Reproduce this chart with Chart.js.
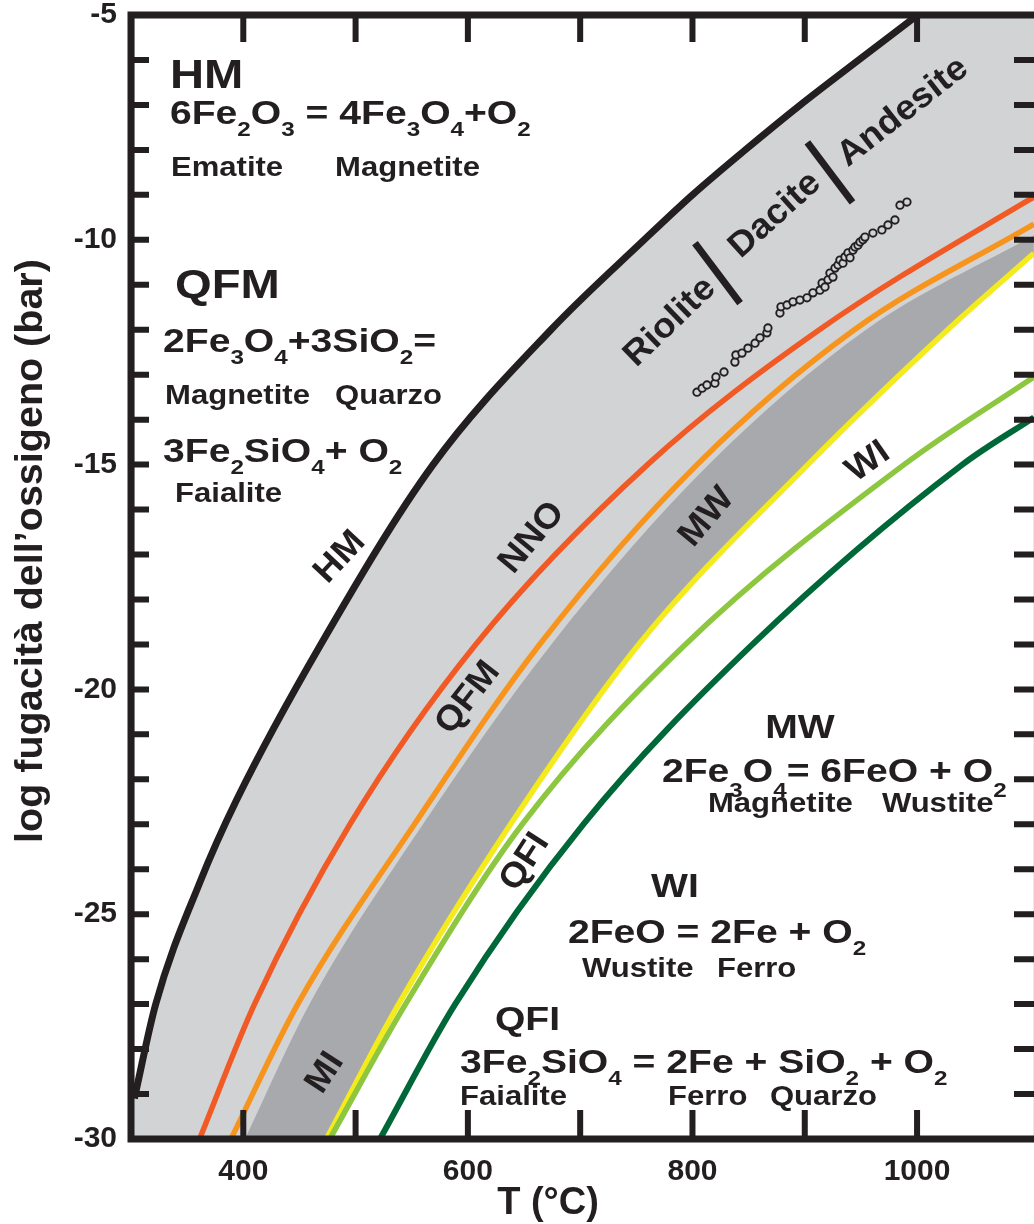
<!DOCTYPE html>
<html lang="it">
<head>
<meta charset="utf-8">
<title>Tamponi di ossigeno</title>
<script src="https://cdn.jsdelivr.net/npm/chart.js@4.4.1/dist/chart.umd.min.js"></script>
<style>
html,body{margin:0;padding:0;background:#ffffff;overflow:hidden;}
canvas{display:block;}
</style>
</head>
<body>
<canvas id="chart" width="1045" height="1224"></canvas>
<script>
// ---- values: temperature T (°C) and log fO2 (bar) ----
const hmT   = [303, 322, 361, 394, 469, 569, 674, 757, 800, 847, 896, 948, 998];
const hmV   = [-29.1, -27, -24.31, -22.46, -19, -15, -12, -10, -9, -8, -7, -6, -5.05];
const nnoT  = [361, 410, 495, 607, 760, 913, 1097, 1104];
const nnoV  = [-30, -27, -23, -19, -15, -12, -9.15, -9.05];
const qfmT  = [389, 448.5, 552.4, 663.9, 804.1, 944.2, 1104];
const qfmV  = [-30, -27, -23, -19, -15, -12, -9.65];
const darkT = [401.5, 459, 560, 674.3, 814.5, 954.6, 1104];   // upper edge of the dark grey band
const darkV = [-30, -27, -23, -19, -15, -12, -9.9];
const mwT   = [474, 538.3, 638, 752.1, 902.8, 1027.3, 1104];
const mwV   = [-30, -27, -23, -19, -15, -12, -10.3];
const wiT   = [477, 544.5, 648.4, 793.7, 988.4, 1104];
const wiV   = [-30, -27, -23, -19, -15, -13.05];
const qfiT  = [521.7, 588.7, 702.8, 853.4, 1040.3, 1104];
const qfiV  = [-30, -27, -23, -19, -15, -13.95];
const dotT  = [804.0, 808.6, 812.9, 820.0, 820.9, 828.1,
               837.8, 838.7, 844.1, 849.4, 855.7, 860.1, 866.3, 867.2,
               877.9, 878.8, 884.2, 889.5, 895.7, 902.0, 907.3, 913.5, 915.4, 918.0, 920.7, 922.4,
               925.1, 926.9, 929.6, 931.3, 934.0, 935.8, 938.5, 940.3, 942.9, 944.7, 947.4, 949.2,
               951.8, 953.6, 960.7, 968.7, 974.1, 980.3, 984.8, 991.0];
const dotV  = [-13.39, -13.30, -13.23, -13.19, -13.05, -12.94,
               -12.72, -12.56, -12.52, -12.41, -12.30, -12.18, -12.07, -11.96,
               -11.63, -11.49, -11.45, -11.38, -11.34, -11.29, -11.18, -11.12, -10.96, -11.05, -10.89, -10.74,
               -10.83, -10.63, -10.56, -10.45, -10.52, -10.38, -10.29, -10.40, -10.23, -10.16, -10.12, -10.05,
               -10.00, -9.94, -9.85, -9.78, -9.67, -9.56, -9.23, -9.16];
const xTicks  = [400, 500, 600, 700, 800, 900, 1000];
const xLabels = [400, 600, 800, 1000];
const yLabels = [-30, -25, -20, -15, -10, -5];

// ---- styling ----
const INK = '#231f20';
const LIGHT = '#d1d3d4';
const DARK = '#a7a9ac';
const FONT = 'Arial, "Liberation Sans", Helvetica, sans-serif';
const STRETCH = 1.15;

// text blocks (anchor in data coordinates)
const notes = [
  {text:'HM', T:334.7, v:-6.62, size:41},
  {text:'6Fe_2O_3 = 4Fe_3O_4+O_2', T:334.7, v:-7.42, size:34},
  {text:'Ematite', T:335.6, v:-8.58, size:27},
  {text:'Magnetite', T:481.7, v:-8.58, size:27},
  {text:'QFM', T:339.2, v:-11.29, size:41},
  {text:'2Fe_3O_4+3SiO_2=', T:328.5, v:-12.50, size:34},
  {text:'Magnetite', T:330.3, v:-13.65, size:27},
  {text:'Quarzo', T:481.7, v:-13.65, size:27},
  {text:'3Fe_2SiO_4+ O_2', T:328.5, v:-14.94, size:34},
  {text:'Faialite', T:339.2, v:-15.83, size:27},
  {text:'MW', T:895.7, v:-21.08, size:34, align:'center'},
  {text:'2Fe_3O_4= 6FeO + O_2', T:772.8, v:-22.06, size:34, drop:0.45},
  {text:'Magnetite', T:813.8, v:-22.73, size:27},
  {text:'Wustite', T:968.7, v:-22.73, size:27},
  {text:'WI', T:784.4, v:-24.62, size:34, align:'center'},
  {text:'2FeO = 2Fe + O_2', T:689.1, v:-25.64, size:34},
  {text:'Wustite', T:701.6, v:-26.40, size:27},
  {text:'Ferro', T:821.8, v:-26.40, size:27},
  {text:'QFI', T:624.1, v:-27.58, size:34},
  {text:'3Fe_2SiO_4 = 2Fe + SiO_2 + O_2', T:593.0, v:-28.53, size:34},
  {text:'Faialite', T:593.0, v:-29.24, size:27},
  {text:'Ferro', T:778.2, v:-29.24, size:27},
  {text:'Quarzo', T:869.0, v:-29.24, size:27}
];
// labels along the curves (centre in data coordinates)
const tags = [
  {text:'HM', T:486.1, v:-17.06, angle:-47},
  {text:'NNO', T:657.1, v:-16.63, angle:-50},
  {text:'QFM', T:600.1, v:-20.19, angle:-52},
  {text:'MW', T:812.9, v:-16.17, angle:-50},
  {text:'WI', T:956.3, v:-14.94, angle:-35},
  {text:'QFI', T:650.8, v:-23.84, angle:-57},
  {text:'MI', T:472.8, v:-28.53, angle:-57},
  {text:'Riolite', T:780.0, v:-11.83, angle:-44},
  {text:'Dacite', T:873.5, v:-9.45, angle:-42},
  {text:'Andesite', T:987.4, v:-7.16, angle:-38}
];
const bars = [
  {T:822.3, v:-10.74, angle:53, len:75},
  {T:922.4, v:-8.50, angle:53, len:75}
];

function parseRich(str){
  const segs = [];
  for (let i = 0; i < str.length; i++){
    const ch = str[i];
    if (ch === '_'){ segs.push({t:str[i+1], sub:true}); i++; }
    else if (segs.length && !segs[segs.length-1].sub){ segs[segs.length-1].t += ch; }
    else segs.push({t:ch, sub:false});
  }
  return segs;
}
function drawRich(ctx, str, x, y, size, o){
  o = o || {};
  const align = o.align || 'left', angle = o.angle || 0;
  const stretch = o.stretch || STRETCH;
  const drop = (o.drop != null ? o.drop : 0.36) * size;
  const subSize = size * 0.62;
  const segs = parseRich(str);
  let w = 0;
  for (const s of segs){ ctx.font = 'bold ' + (s.sub ? subSize : size) + 'px ' + FONT; s.w = ctx.measureText(s.t).width; w += s.w; }
  ctx.save();
  ctx.translate(x, y);
  if (angle) ctx.rotate(angle * Math.PI / 180);
  ctx.scale(stretch, 1);
  ctx.fillStyle = INK; ctx.textAlign = 'left'; ctx.textBaseline = o.baseline || 'alphabetic';
  let cx = align === 'center' ? -w/2 : (align === 'right' ? -w : 0);
  for (const s of segs){
    ctx.font = 'bold ' + (s.sub ? subSize : size) + 'px ' + FONT;
    ctx.fillText(s.t, cx, s.sub ? drop : 0);
    cx += s.w;
  }
  ctx.restore();
}

const decor = {
  id: 'decor',
  beforeDraw(chart){
    const {ctx, chartArea:a} = chart;
    ctx.save();
    ctx.fillStyle = '#ffffff'; ctx.fillRect(0, 0, chart.width, chart.height);
    ctx.fillStyle = LIGHT; ctx.fillRect(a.left, a.top, a.right - a.left, a.bottom - a.top);
    ctx.restore();
  },
  afterDatasetsDraw(chart){
    const {ctx, chartArea:a, scales:{x, y}} = chart;
    for (const n of notes){
      drawRich(ctx, n.text, x.getPixelForValue(n.T), y.getPixelForValue(n.v), n.size, {align:n.align, drop:n.drop});
    }
    for (const t of tags){
      drawRich(ctx, t.text, x.getPixelForValue(t.T), y.getPixelForValue(t.v), 35, {align:'center', angle:t.angle, baseline:'middle', stretch:1.05});
    }
    ctx.save();
    ctx.strokeStyle = INK; ctx.lineWidth = 7; ctx.lineCap = 'butt';
    for (const b of bars){
      const cx = x.getPixelForValue(b.T), cy = y.getPixelForValue(b.v);
      const r = b.angle * Math.PI / 180, h = b.len / 2;
      ctx.beginPath();
      ctx.moveTo(cx - h*Math.cos(r), cy - h*Math.sin(r));
      ctx.lineTo(cx + h*Math.cos(r), cy + h*Math.sin(r));
      ctx.stroke();
    }
    // inward ticks
    ctx.lineWidth = 6;
    ctx.beginPath();
    x.ticks.forEach(t => {
      const px = x.getPixelForValue(t.value);
      ctx.moveTo(px, a.top); ctx.lineTo(px, a.top + 27);
      ctx.moveTo(px, a.bottom); ctx.lineTo(px, a.bottom - 29);
    });
    y.ticks.forEach(t => {
      if (t.value <= y.min || t.value >= y.max) return;
      const py = y.getPixelForValue(t.value);
      ctx.moveTo(a.left, py); ctx.lineTo(a.left + 18, py);
      ctx.moveTo(a.right, py); ctx.lineTo(a.right - 24, py);
    });
    ctx.stroke();
    ctx.lineWidth = 7;
    ctx.strokeRect(a.left, a.top, a.right - a.left, a.bottom - a.top);
    ctx.restore();
  },
  afterDraw(chart){
    const ctx = chart.ctx;
    ctx.save();
    ctx.fillStyle = INK;
    ctx.font = 'bold 39.5px ' + FONT;
    ctx.textAlign = 'center'; ctx.textBaseline = 'middle';
    ctx.translate(31, 551); ctx.rotate(-Math.PI/2);
    ctx.fillText('log fugacità dell’ossigeno (bar)', 0, 0);
    ctx.restore();
    ctx.save();
    ctx.fillStyle = INK;
    ctx.font = 'bold 38px ' + FONT;
    ctx.textAlign = 'center'; ctx.textBaseline = 'alphabetic';
    ctx.fillText('T (°C)', 548, 1214);
    ctx.restore();
  }
};

const pts = (T, V) => T.map((t, i) => ({x:t, y:V[i]}));
const curve = (label, T, V, color, width, extra) => Object.assign({
  label, data: pts(T, V), showLine: true, borderColor: color, borderWidth: width,
  pointRadius: 0, pointHoverRadius: 0, fill: false, cubicInterpolationMode: 'monotone'
}, extra || {});
const xLabelFor = v => { const m = xLabels.find(l => Math.abs(l - v) < 0.5); return m === undefined ? '' : String(m); };

new Chart(document.getElementById('chart'), {
  type: 'scatter',
  data: {
    datasets: [
      {label:'Campioni', data: pts(dotT, dotV), showLine:false, pointRadius:3.7, pointHoverRadius:3.7,
       pointBorderWidth:1.9, pointBorderColor:INK, pointBackgroundColor:LIGHT},
      curve('HM', hmT, hmV, INK, 7, {fill:'end', backgroundColor:'#ffffff'}),
      curve('NNO', nnoT, nnoV, '#f15a24', 5.5),
      curve('QFM', qfmT, qfmV, '#f7941d', 5.5),
      curve('QFI', qfiT, qfiV, '#006838', 6),
      curve('WI / MI', wiT, wiV, '#8dc63f', 5.5),
      curve('MW', mwT, mwV, '#f4eb1f', 5.5, {fill:'start', backgroundColor:'#ffffff'}),
      curve('banda', darkT, darkV, 'rgba(0,0,0,0)', 0, {fill:'start', backgroundColor:DARK})
    ]
  },
  options: {
    responsive: false,
    animation: false,
    devicePixelRatio: 1,
    layout: {padding: {top: 15, right: 7, left: 0, bottom: 0}},
    plugins: {legend: {display: false}, tooltip: {enabled: false}},
    scales: {
      x: {
        type: 'linear', position: 'bottom', min: 300, max: 1107.7,
        grid: {display: false, drawTicks: false}, border: {display: false},
        ticks: {autoSkip: false, maxRotation: 0, minRotation: 0, padding: 15, color: INK,
                font: {family: FONT, size: 30, weight: 'bold'},
                callback: v => xLabelFor(v)},
        afterBuildTicks: s => { s.ticks = xTicks.map(v => ({value: v})); },
        afterTickToLabelConversion: s => { s.ticks.forEach(t => { t.label = xLabelFor(t.value); }); },
        afterFit: s => { s.height = 85; s.paddingLeft = 0; s.paddingRight = 0; }
      },
      y: {
        type: 'linear', position: 'left', min: -30, max: -5,
        grid: {display: false, drawTicks: false}, border: {display: false},
        ticks: {stepSize: 1, autoSkip: false, padding: 14, color: INK,
                font: {family: FONT, size: 30, weight: 'bold'},
                callback: v => yLabels.includes(v) ? String(v) : ''},
        afterFit: s => { s.width = 131; s.paddingTop = 0; s.paddingBottom = 0; }
      }
    }
  },
  plugins: [decor]
});
</script>
</body>
</html>
